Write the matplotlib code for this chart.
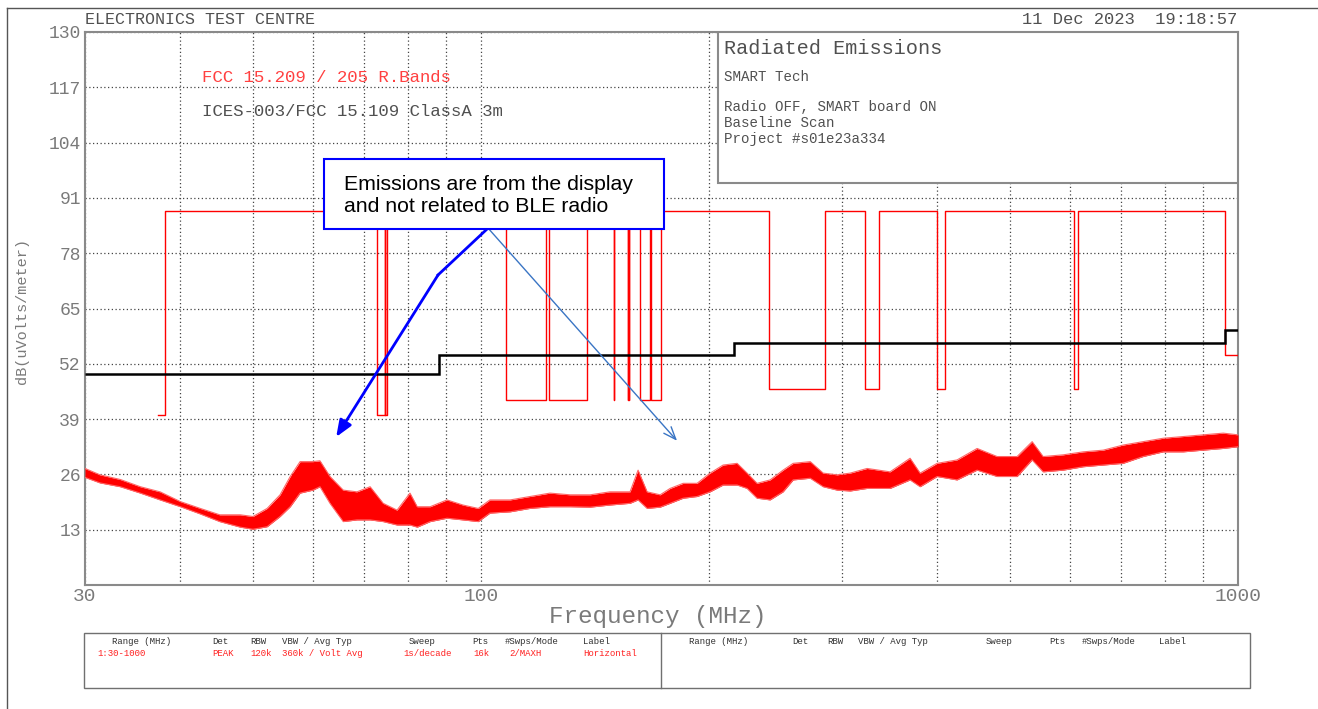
import numpy as np
import matplotlib
matplotlib.use('Agg')
from matplotlib import pyplot as plt
from matplotlib.patches import Rectangle
from matplotlib.lines import Line2D

# --- data ---

# measured peak trace (MHz, upper / lower edge of the noisy trace, dBuV/m)
TRACE_MHZ = [30.0, 31.4, 33.4, 35.5, 37.7, 40.1, 42.6, 45.2, 48.1, 50.0,
             52.2, 54.3, 56.0, 57.7, 60.0, 61.3, 63.2, 65.8, 68.6, 71.4,
             74.3, 77.5, 80.6, 82.4, 85.7, 90.2, 94.7, 99.2, 102.8, 109.3,
             116.1, 123.4, 131.2, 139.4, 148.1, 157.4, 161.3, 165.8, 172.5, 177.8,
             185.0, 193.0, 200.8, 208.9, 218.0, 224.7, 231.6, 241.0, 250.7, 258.5,
             272.3, 283.2, 295.5, 307.4, 323.7, 347.1, 368.9, 380.3, 400.5, 425.5,
             452.3, 480.7, 510.8, 534.7, 552.9, 587.6, 624.5, 663.7, 705.2, 749.4,
             796.4, 846.5, 899.5, 956.0, 1000.0]
TRACE_HI = [27.4, 25.9, 24.8, 23.1, 21.9, 19.6, 18.0, 16.5, 16.5, 16.1,
            18.0, 21.2, 25.5, 29.0, 29.0, 29.2, 25.5, 22.3, 21.9, 23.1,
            19.2, 17.6, 21.6, 18.4, 18.4, 20.0, 18.8, 18.0, 20.0, 20.0,
            20.8, 21.6, 21.2, 21.2, 21.9, 21.9, 27.0, 21.9, 21.2, 22.7,
            23.9, 23.9, 26.3, 28.2, 28.6, 26.3, 23.9, 24.7, 27.0, 28.6,
            29.0, 26.3, 25.9, 26.3, 27.4, 26.6, 29.8, 26.3, 28.6, 29.4,
            32.1, 30.2, 30.2, 33.7, 30.2, 30.6, 31.3, 31.7, 32.9, 33.7,
            34.5, 34.9, 35.3, 35.7, 35.3]
TRACE_LO = [25.3, 24.0, 23.1, 21.6, 20.0, 18.4, 16.7, 14.9, 13.6, 13.1,
            13.7, 16.1, 18.4, 21.6, 22.3, 23.1, 19.2, 14.9, 15.3, 15.3,
            14.9, 14.1, 14.1, 13.6, 14.9, 15.7, 15.3, 14.9, 16.9, 17.2,
            18.0, 18.4, 18.4, 18.3, 18.8, 19.2, 20.0, 18.0, 18.3, 19.2,
            20.4, 20.8, 21.9, 23.5, 23.5, 22.7, 20.4, 20.0, 21.9, 24.7,
            25.1, 23.1, 22.3, 22.1, 22.7, 22.7, 24.7, 23.1, 25.5, 24.7,
            27.0, 25.5, 25.5, 29.4, 26.6, 27.0, 27.8, 28.2, 28.6, 30.2,
            31.3, 31.3, 31.7, 32.1, 32.5]

# FCC 15.209 / 15.205 restricted bands mask
RB_START = [37.5, 73.0, 74.8, 108.0, 123.0, 149.9, 156.52475, 156.7, 162.0125,
            167.72, 240.0, 322.0, 399.9, 608.0, 960.0]
RB_STOP = [38.25, 74.6, 75.2, 121.94, 138.0, 150.05, 156.52525, 156.9, 167.17,
           173.2, 285.0, 335.4, 410.0, 614.0, 1000.0]
RB_LEVEL = [40.0, 40.0, 40.0, 43.5, 43.5, 43.5, 43.5, 43.5, 43.5,
            43.5, 46.0, 46.0, 46.0, 46.0, 54.0]
MASK_HIGH = 88.0

# ICES-003 / FCC 15.109 class A, 3 m
CLASSA_EDGES = [30.0, 88.0, 216.0, 960.0, 1000.0]
CLASSA_LEVEL = [49.5, 54.0, 56.9, 60.0]

Y_TICKS = [0, 13, 26, 39, 52, 65, 78, 91, 104, 117, 130]
X_MAJOR = [30, 100, 1000]
X_MINOR = [40, 50, 60, 70, 80, 90, 200, 300, 400, 500, 600, 700, 800, 900]

TABLE_HEAD = ['Range (MHz)', 'Det', 'RBW', 'VBW / Avg Typ', 'Sweep', 'Pts',
              '#Swps/Mode', 'Label']
TABLE_ROW = ['1:30-1000', 'PEAK', '120k', '360k / Volt Avg', '1s/decade', '16k',
             '2/MAXH', 'Horizontal']

W, H = 1318., 709.
PLOTTER = 'Liberation Mono'
GREY = '#505050'
LABEL_GREY = '#7a7a7a'


def fx(px):
    return px / W


def fy(py):
    return 1. - py / H


def mask_path():
    """step outline of the restricted band mask"""
    xs, ys = [], []
    for n, (f0, f1, lev) in enumerate(zip(RB_START, RB_STOP, RB_LEVEL)):
        if n:
            xs += [f0]
            ys += [MASK_HIGH]
        xs += [f0, f1]
        ys += [lev, lev]
        if n < len(RB_START) - 1:
            xs += [f1]
            ys += [MASK_HIGH]
    return xs, ys


fig = plt.figure(figsize=(W / 100, H / 100), dpi=100)
ax = fig.add_axes([fx(85), fy(585), fx(1238) - fx(85), fy(32) - fy(585)])
ax.set_xscale('log')
ax.set_xlim(30, 1000)
ax.set_ylim(0, 130)

ax.set_xticks(X_MAJOR)
ax.set_xticklabels([str(v) for v in X_MAJOR], fontsize=14, family=PLOTTER, color=LABEL_GREY)
ax.set_xticks(X_MINOR, minor=True)
ax.set_xticklabels([], minor=True)
ax.set_yticks(Y_TICKS)
ax.set_yticklabels([''] + [str(v) for v in Y_TICKS[1:]], fontsize=13, family=PLOTTER,
                   color=LABEL_GREY)
ax.tick_params(which='both', length=0, pad=3)
ax.tick_params(axis='x', pad=2)
ax.grid(True, which='both', axis='x', ls=(0, (1, 2)), color='#444444', lw=0.9)
ax.grid(True, which='major', axis='y', ls=(0, (1, 2)), color='#444444', lw=0.9)
for sp in ax.spines.values():
    sp.set_color('#8a8a8a')
    sp.set_linewidth(1.5)

# traces
mx, my = mask_path()
ax.plot(mx, my, color='#ff0000', lw=1.0, zorder=3)
ax.stairs(CLASSA_LEVEL, CLASSA_EDGES, color='black', lw=1.8, zorder=3, baseline=None)
ax.fill_between(TRACE_MHZ, TRACE_LO, TRACE_HI, color='#ff0000', lw=0, zorder=3)
ax.plot(TRACE_MHZ, TRACE_HI, color='#ff6666', lw=0.8, zorder=3)
ax.plot(TRACE_MHZ, TRACE_LO, color='#ff6666', lw=0.8, zorder=3)

# limit labels
fig.text(fx(202), fy(78), 'FCC 15.209 / 205 R.Bands', fontsize=12.5, family=PLOTTER,
         color='#ff4040', va='center')
fig.text(fx(202), fy(112), 'ICES-003/FCC 15.109 ClassA 3m', fontsize=12.5, family=PLOTTER,
         color=GREY, va='center')

# info box
ax.add_patch(Rectangle((633 / 1153, (585 - 183) / 553), 1 - 633 / 1153, 183 / 553 - 32 / 553,
                       transform=ax.transAxes, fc='white', ec='#8a8a8a', lw=1.5, zorder=5))
fig.text(fx(724), fy(49), 'Radiated Emissions', fontsize=14.5, family=PLOTTER, color=GREY,
         va='center')
for txt, py in [('SMART Tech', 77), ('Radio OFF, SMART board ON', 107),
                ('Baseline Scan', 123), ('Project #s01e23a334', 139)]:
    fig.text(fx(724), fy(py), txt, fontsize=10.2, family=PLOTTER, color=GREY, va='center')

# callout
ax.plot([102.2, 87.8], [83.9, 72.9], color='#0000ff', lw=2, zorder=4)
ax.annotate('', xy=(64.4, 34.8), xytext=(87.8, 72.9), zorder=4,
            arrowprops=dict(arrowstyle='-|>,head_length=1.0,head_width=0.4', color='#0000ff',
                            lw=2, shrinkA=0, shrinkB=0))
ax.annotate('', xy=(181.6, 33.9), xytext=(102.2, 83.9), zorder=4,
            arrowprops=dict(arrowstyle='->,head_length=0.9,head_width=0.35', color='#3a75c4',
                            lw=1, shrinkA=0, shrinkB=0))
ax.add_patch(Rectangle(((324 - 85) / 1153, (585 - 229) / 553), 340 / 1153, 70 / 553,
                       transform=ax.transAxes, fc='white', ec='#0000ff', lw=1.5, zorder=6))
fig.text(fx(344), fy(196), 'Emissions are from the display\nand not related to BLE radio',
         fontsize=15.3, family='Liberation Sans', color='black', va='center',
         linespacing=1.2, zorder=7)

# header / axis labels
fig.text(fx(85), fy(20), 'ELECTRONICS TEST CENTRE', fontsize=12, family=PLOTTER, color=GREY,
         va='center')
fig.text(fx(1237), fy(20), '11 Dec 2023  19:18:57', fontsize=12.3, family=PLOTTER, color=GREY,
         va='center', ha='right')
fig.text(fx(22), fy(311), 'dB(uVolts/meter)', fontsize=11, family=PLOTTER, color=LABEL_GREY,
         rotation=90, va='center', ha='center')
fig.text(fx(658), fy(617), 'Frequency (MHz)', fontsize=17.5, family=PLOTTER,
         color=LABEL_GREY, va='center', ha='center')

# page frame
fig.add_artist(Line2D([fx(7), 1], [fy(8), fy(8)], color='#555555', lw=1))
fig.add_artist(Line2D([fx(7), fx(7)], [fy(8), 0], color='#555555', lw=1))

# settings table
fig.add_artist(Rectangle((fx(84), fy(688)), fx(1250) - fx(84), fy(633) - fy(688),
                         transform=fig.transFigure, fill=False, ec='#707070', lw=1))
fig.add_artist(Line2D([fx(661), fx(661)], [fy(688), fy(633)], color='#707070', lw=1))
left_cols = [112, 212, 250, 282, 409, 472, 505, 583]
row_cols = [97, 212, 250, 282, 403, 473, 509, 583]
right_cols = [689, 792, 827, 858, 986, 1049, 1082, 1159]
for head, x0, x1 in zip(TABLE_HEAD, left_cols, right_cols):
    fig.text(fx(x0), fy(641), head, fontsize=6.5, family=PLOTTER, color='#303030', va='center')
    fig.text(fx(x1), fy(641), head, fontsize=6.5, family=PLOTTER, color='#303030', va='center')
for val, x0 in zip(TABLE_ROW, row_cols):
    fig.text(fx(x0), fy(653), val, fontsize=6.5, family=PLOTTER, color='#ff2020', va='center')

fig.savefig('out.png', dpi=100)
